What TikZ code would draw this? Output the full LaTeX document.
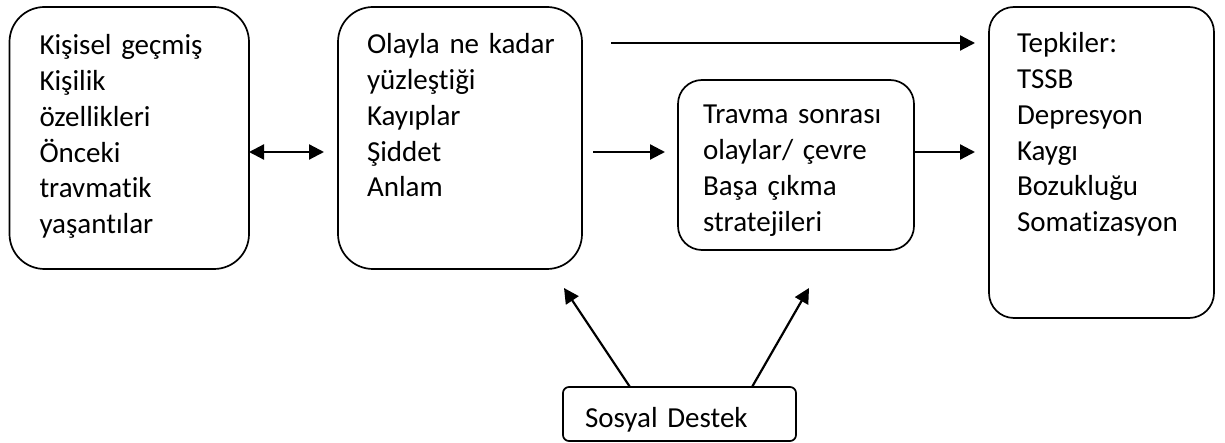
\documentclass[tikz,border=0pt]{standalone}
\usepackage{fontspec}
\setmainfont[Ligatures=NoCommon]{Carlito}
\usetikzlibrary{arrows.meta}
\begin{document}
\begin{tikzpicture}[x=1pt,y=-1pt,
  box/.style={draw=black,line width=1.7pt,inner sep=0pt,outer sep=0pt},
  txt/.style={anchor=base west,inner sep=0pt,outer sep=0pt,align=left,text width=215pt,
    font=\fontsize{29}{35.7}\selectfont},
  arr/.style={line width=2.2pt,-{Triangle[length=15pt,width=15pt]}},
  darr/.style={line width=2.2pt,{Triangle[length=15pt,width=15pt]}-{Triangle[length=15pt,width=15pt]}}]
\useasboundingbox (0,0) rectangle (1225,443);
% boxes
\node[box,rounded corners=35pt,minimum width=239.5pt,minimum height=262pt] (b1) at (129.25,138) {};
\node[box,rounded corners=35pt,minimum width=244pt,minimum height=262pt] (b2) at (460,138) {};
\node[box,rounded corners=24pt,minimum width=236pt,minimum height=170pt] (b3) at (796,165) {};
\node[box,rounded corners=25pt,minimum width=225pt,minimum height=311pt] (b4) at (1101.5,162.5) {};
\node[box,rounded corners=6pt,minimum width=233pt,minimum height=54pt] (s) at (679.5,414) {};
% texts
\node[txt] (t1) at (39.5,55) {Kişisel geçmiş\\Kişilik\\özellikleri\\Önceki\\travmatik\\yaşantılar};
\node[txt] (t2) at (367,54) {Olayla ne kadar\\yüzleştiği\\Kayıplar\\Şiddet\\Anlam};
\node[txt] (t3) at (703,124) {Travma sonrası\\olaylar/ çevre\\Başa çıkma\\stratejileri};
\node[txt] (t4) at (1017,53) {Tepkiler:\\TSSB\\Depresyon\\Kaygı\\Bozukluğu\\Somatizasyon};
\node[txt] (t5) at (585,427) {Sosyal Destek};
% free ends
\coordinate (c1) at (611,43);
\coordinate (c2) at (593,152);
\coordinate (c3) at (564,288);
\coordinate (c4) at (809,288);
\coordinate (s1) at (630,387);
\coordinate (s2) at (752,387);
% connectors
\draw[darr,shorten >=14pt] (b1.east |- c2) -- (b2.west |- c2);
\draw[arr,shorten >=14pt] (c1) -- (c1 -| b4.west);
\draw[arr,shorten >=13pt] (c2) -- (c2 -| b3.west);
\draw[arr,shorten >=14pt] (c2 -| b3.east) -- (c2 -| b4.west);
\draw[arr] (s1) -- (c3);
\draw[arr] (s2) -- (c4);
\end{tikzpicture}
\end{document}
